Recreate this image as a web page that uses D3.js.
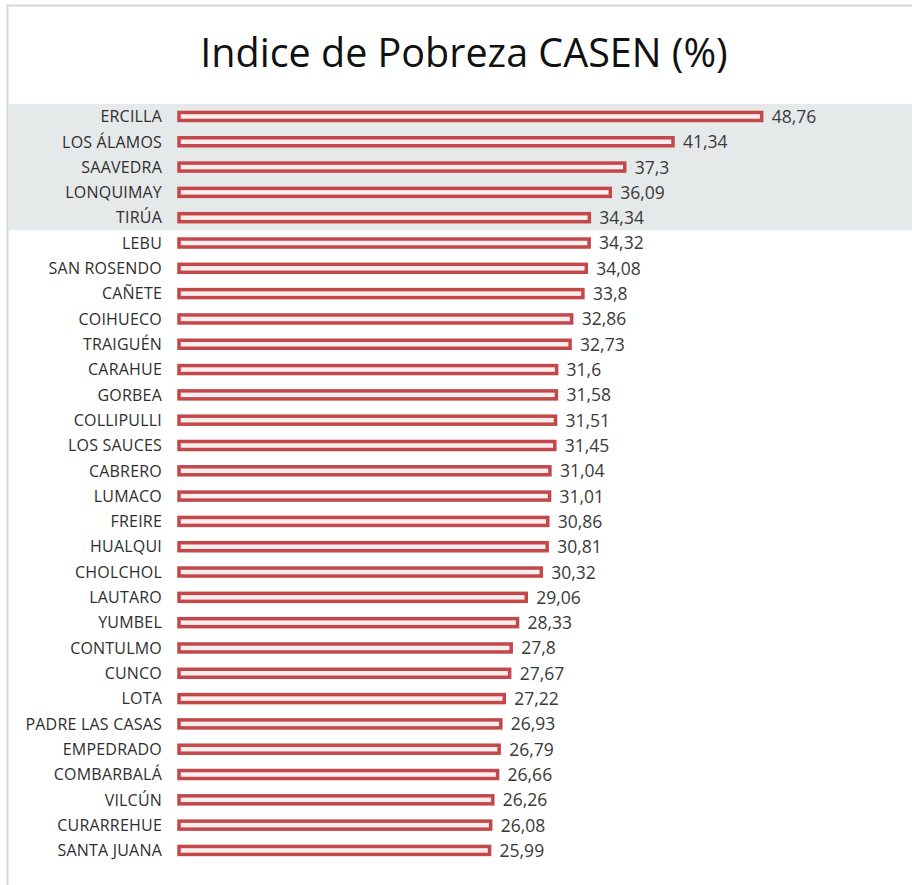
<!DOCTYPE html>
<html>
<head>
<meta charset="utf-8">
<script src="https://cdn.jsdelivr.net/npm/d3@7"></script>
<style>
  body { margin: 0; background: #fff; }
  svg { display: block; }
</style>
</head>
<body>
<div id="chart"></div>
<script>
(function() {
  var comunas = ["ERCILLA", "LOS ÁLAMOS", "SAAVEDRA", "LONQUIMAY", "TIRÚA", "LEBU",
    "SAN ROSENDO", "CAÑETE", "COIHUECO", "TRAIGUÉN", "CARAHUE", "GORBEA",
    "COLLIPULLI", "LOS SAUCES", "CABRERO", "LUMACO", "FREIRE", "HUALQUI",
    "CHOLCHOL", "LAUTARO", "YUMBEL", "CONTULMO", "CUNCO", "LOTA",
    "PADRE LAS CASAS", "EMPEDRADO", "COMBARBALÁ", "VILCÚN", "CURARREHUE", "SANTA JUANA"];
  var pobreza = [48.76, 41.34, 37.3, 36.09, 34.34, 34.32, 34.08, 33.8, 32.86, 32.73,
    31.6, 31.58, 31.51, 31.45, 31.04, 31.01, 30.86, 30.81, 30.32, 29.06,
    28.33, 27.8, 27.67, 27.22, 26.93, 26.79, 26.66, 26.26, 26.08, 25.99];
  var destacados = 5; // first rows on the grey band
  var titulo = "Indice de Pobreza CASEN (%)";

  var width = 912, height = 885;
  var fmt = function(v) { return String(v).replace(".", ","); };

  var svg = d3.select("#chart").append("svg")
      .attr("width", width)
      .attr("height", height);

  // frame
  svg.append("path")
      .attr("d", "M7.5," + height + "V5.5H" + width)
      .attr("fill", "none")
      .attr("stroke", "#d6d6d6")
      .attr("stroke-width", 2);

  var x = d3.scaleLinear()
      .domain([0, 50])
      .range([179, 179 + 11.95 * 50]);

  var y = d3.scaleBand()
      .domain(comunas)
      .range([103.8, 103.8 + 25.31 * comunas.length]);

  // grey band behind the top rows
  svg.append("rect")
      .attr("x", 8)
      .attr("y", y(comunas[0]))
      .attr("width", width - 8)
      .attr("height", y.step() * destacados)
      .attr("fill", "#e6e9ea");

  svg.append("text")
      .attr("x", 464)
      .attr("y", 67)
      .attr("text-anchor", "middle")
      .attr("font-family", "'Open Sans', sans-serif")
      .attr("font-size", 39.5)
      .attr("fill", "#111")
      .text(titulo);

  var rows = svg.selectAll("g.row")
      .data(comunas)
    .enter().append("g")
      .attr("class", "row")
      .attr("transform", function(d) { return "translate(0," + (y(d) + y.bandwidth() / 2) + ")"; });

  rows.append("text")
      .attr("x", 162)
      .attr("dy", "0.36em")
      .attr("text-anchor", "end")
      .attr("font-family", "'Open Sans', sans-serif")
      .attr("font-size", 16)
      .attr("letter-spacing", 0.2)
      .attr("fill", "#2e2e2e")
      .text(function(d) { return d; });

  rows.append("rect")
      .attr("x", x(0))
      .attr("y", -4)
      .attr("width", function(d, i) { return x(pobreza[i]) - x(0); })
      .attr("height", 8)
      .attr("fill", "#fbeeee")
      .attr("stroke", "#c4474a")
      .attr("stroke-width", 3.5);

  rows.append("text")
      .attr("x", function(d, i) { return x(pobreza[i]) + 10; })
      .attr("dy", "0.37em")
      .attr("font-family", "'Open Sans', sans-serif")
      .attr("font-size", 17.5)
      .attr("fill", "#3a3a3a")
      .text(function(d, i) { return fmt(pobreza[i]); });
})();
</script>
</body>
</html>
